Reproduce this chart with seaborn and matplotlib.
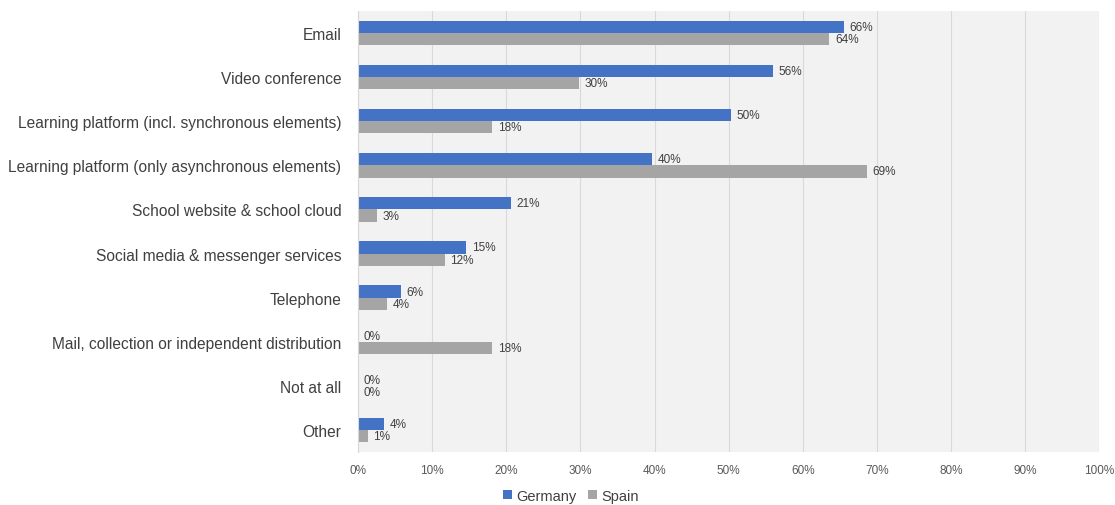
import pandas as pd
import matplotlib.pyplot as plt
import seaborn as sns

categories = ["Email", "Video conference", "Learning platform (incl. synchronous elements)",
              "Learning platform (only asynchronous elements)", "School website & school cloud",
              "Social media & messenger services", "Telephone",
              "Mail, collection or independent distribution", "Not at all", "Other"]
germany = [65.5, 56.0, 50.3, 39.7, 20.6, 14.6, 5.8, 0.0, 0.0, 3.5]
spain = [63.6, 29.8, 18.1, 68.7, 2.6, 11.7, 3.9, 18.1, 0.0, 1.3]
x_ticks = [0, 10, 20, 30, 40, 50, 60, 70, 80, 90, 100]

df = pd.DataFrame({
    "category": categories * 2,
    "value": germany + spain,
    "country": ["Germany"] * len(categories) + ["Spain"] * len(categories),
})

sns.set_style("white")
plt.rcParams["font.family"] = ["Liberation Sans", "DejaVu Sans"]

fig = plt.figure(figsize=(11.15, 5.06), dpi=100)
ax = fig.add_axes([0.321, 0.105, 0.665, 0.871])
ax.set_facecolor("#f2f2f2")

sns.barplot(data=df, y="category", x="value", hue="country", orient="h",
            palette={"Germany": "#4472c4", "Spain": "#a5a5a5"},
            saturation=1, linewidth=0, width=0.55, ax=ax, legend=True)

for cont in ax.containers:
    ax.bar_label(cont, labels=["%.0f%%" % v for v in cont.datavalues],
                 padding=4, fontsize=8.5, color="#404040")

ax.set_xlim(0, 100)
ax.set_xticks(x_ticks)
ax.set_xticklabels(["%d%%" % t for t in x_ticks], fontsize=8.5, color="#595959")
ax.tick_params(axis="y", labelsize=11.2, labelcolor="#404040", length=0, pad=12)
ax.tick_params(axis="x", length=0, pad=9)
ax.xaxis.grid(True, color="#d9d9d9", linewidth=0.8)
ax.set_axisbelow(True)
ax.set_xlabel("")
ax.set_ylabel("")
for s in ["top", "right", "bottom"]:
    ax.spines[s].set_visible(False)
ax.spines["left"].set_color("#d9d9d9")

handles, labels = ax.get_legend_handles_labels()
ax.get_legend().remove()
fig.legend(handles, labels, loc="lower center", bbox_to_anchor=(0.512, -0.022), ncol=2,
           frameon=False, fontsize=10.5, handlelength=0.6, handleheight=0.6,
           handletextpad=0.3, columnspacing=0.8, labelcolor="#404040")

fig.savefig("out.png", dpi=100)
